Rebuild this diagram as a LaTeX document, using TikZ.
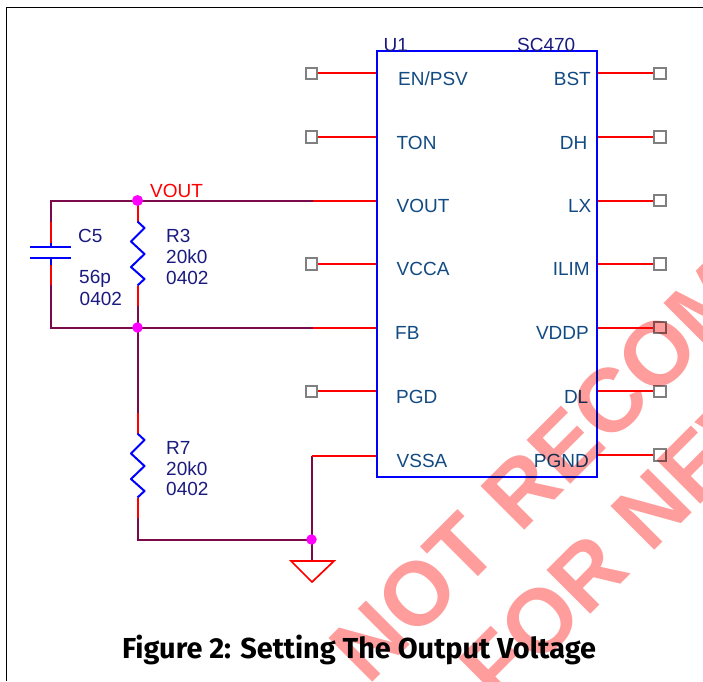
\documentclass[tikz,border=0pt]{standalone}
\usepackage{fontspec}
\setmainfont{Liberation Sans}
\newfontfamily\titlefont{Fira Sans}
\usepackage{tikz}
\usetikzlibrary{shapes,arrows}
\definecolor{netcol}{HTML}{7A0A4A}
\definecolor{refcol}{HTML}{1A1A80}
\definecolor{pincol}{HTML}{124A82}
\definecolor{markcol}{HTML}{FF9C9C}
\definecolor{dotcol}{HTML}{FF00FF}
\tikzstyle{term} = [rectangle, draw=gray, line width=2pt, fill=white, inner sep=0pt, minimum size=11.5pt]
\tikzstyle{chip} = [rectangle, draw=blue, line width=2pt, minimum width=220pt, minimum height=425.5pt, inner sep=0pt]
\tikzstyle{line} = [draw, red, line width=2pt]
\tikzstyle{net} = [draw, netcol, line width=2pt]
\tikzstyle{part} = [draw, blue, line width=2pt]
\tikzstyle{dot} = [circle, fill=dotcol, inner sep=0pt, minimum size=10.5pt]
\tikzstyle{pinname} = [text=pincol, inner sep=0pt, font=\fontsize{19}{19}\selectfont]
\tikzstyle{ref} = [text=refcol, inner sep=0pt, anchor=base west, font=\fontsize{19}{19}\selectfont]
\tikzstyle{stamp} = [text=markcol, inner sep=0pt, anchor=base west, rotate=45, font=\fontsize{90}{90}\selectfont\bfseries]
\begin{document}
\begin{tikzpicture}[x=1pt, y=-1pt, node distance = 63.6pt]
      \useasboundingbox (0,0) rectangle (703,681);
      \clip (0,0) rectangle (703,681);
      \coordinate (framea) at (6.5,681);
      \coordinate (frameb) at (6.5,7.5);
      \coordinate (framec) at (703,7.5);
      \draw [black, line width=1.5pt] (framea) -- (frameb) -- (framec);

      \node [chip] at (487,264.2) (u1) {};

      % terminals
      \node [term] at (311.5,73.3) (en) {};
      \node [term, below of=en] (ton) {};
      \node [term, below of=ton, yshift=-63.6pt] (vcca) {};
      \node [term, below of=vcca, yshift=-63.6pt] (pgd) {};
      \node [term] at (660,73.3) (bst) {};
      \node [term, below of=bst] (dh) {};
      \node [term, below of=dh] (lx) {};
      \node [term, below of=lx] (ilim) {};
      \node [term, below of=ilim] (vddp) {};
      \node [term, below of=vddp] (dl) {};
      \node [term, below of=dl] (pgnd) {};

      \foreach \t in {en,ton,vcca,pgd}
        \path [line] (\t.east) -- (\t.east -| u1.west);
      \foreach \t in {bst,dh,lx,ilim,vddp,dl,pgnd}
        \path [line] (\t.west) -- (\t.west -| u1.east);

      % wiring points
      \coordinate (vout) at (137.5,200.5);
      \coordinate (fb) at (137.5,327.5);
      \coordinate (gnd) at (311.5,539.5);
      \coordinate (voutl) at (50.5,200.5);
      \coordinate (fbl) at (50.5,327.5);
      \coordinate (voutr) at (313,200.5);
      \coordinate (fbr) at (313,327.5);
      \coordinate (vssa) at (312,455.5);
      \coordinate (gndtop) at (312,561);
      \coordinate (r7l) at (137.5,539.5);

      % net wires
      \path [net] (voutr) -- (voutl) -- (50.5,222);
      \path [net] (50.5,285) -- (fbl) -- (fbr);
      \path [net] (fb) -- (137.5,413);
      \path [net] (137.5,306) -- (fb);
      \path [net] (137.5,518) -- (r7l) -- (gnd);
      \path [net] (312,456) -- (gndtop);
      \path [line] (voutr) -- (voutr -| u1.west);
      \path [line] (fbr) -- (fbr -| u1.west);
      \path [line] (vssa) -- (vssa -| u1.west);

      % C5
      \path [line] (50.5,222) -- (50.5,243);
      \path [line] (50.5,265) -- (50.5,285);
      \path [part] (50.5,243) -- (50.5,247);
      \path [part] (50.5,258) -- (50.5,265);
      \path [part] (30,247) -- (71,247);
      \path [part] (30,258) -- (71,258);

      % R3 and R7
      \coordinate (r3) at (137.5,221.5);
      \coordinate (r7) at (137.5,433.5);
      \path [line] (vout) -- (r3);
      \path [line] (137.5,285.5) -- (137.5,306);
      \path [line] (137.5,413) -- (r7);
      \path [line] (137.5,497.5) -- (137.5,518);
      \foreach \r in {r3,r7}
        \path [part, line join=round] (\r) -- ++(7,6.5) -- ++(-13.5,13.5) -- ++(13.5,12.5)
          -- ++(-13.5,13) -- ++(13.5,12) -- ++(-7,6.5);

      % ground
      \coordinate (gnda) at (291,561);
      \coordinate (gndb) at (334,561);
      \coordinate (gndc) at (312,582);
      \draw [red, line width=1.7pt, line join=miter] (gnda) -- (gndb) -- (gndc) -- cycle;

      \node [dot, minimum size=11pt] at (vout) (dota) {};
      \node [dot] at (fb) (dotb) {};
      \node [dot] at (gnd) (dotc) {};

      % pin names
      \node [pinname, anchor=base west] at (398,85) (nen) {EN/PSV};
      \node [pinname, anchor=base west] at (396.5,149) (nton) {TON};
      \node [pinname, anchor=base west] at (396.5,212) (nvout) {VOUT};
      \node [pinname, anchor=base west] at (396.5,275.5) (nvcca) {VCCA};
      \node [pinname, anchor=base west] at (395,339) (nfb) {FB};
      \node [pinname, anchor=base west] at (396,403) (npgd) {PGD};
      \node [pinname, anchor=base west] at (396.5,467) (nvssa) {VSSA};
      \node [pinname, anchor=base east] at (591,85) (nbst) {BST};
      \node [pinname, anchor=base east] at (587.5,149) (ndh) {DH};
      \node [pinname, anchor=base east] at (591.5,212) (nlx) {LX};
      \node [pinname, anchor=base east] at (590,275.5) (nilim) {ILIM};
      \node [pinname, anchor=base east] at (589,339) (nvddp) {VDDP};
      \node [pinname, anchor=base east] at (588.5,403) (ndl) {DL};
      \node [pinname, anchor=base east] at (589,467) (npgnd) {PGND};

      % part labels
      \node [ref] at (383.5,51) (lu) {U1};
      \node [ref] at (517,51) (lsc) {SC470};
      \node [ref, text=red] at (150,197) (lvout) {VOUT};
      \node [ref] at (78,242) (lc) {C5};
      \node [ref] at (79,283.5) (lcv) {56p};
      \node [ref] at (79.5,305.5) (lcs) {0402};
      \node [ref] at (166,242) (lr) {R3};
      \node [ref] at (166,263.3) (lrv) {20k0};
      \node [ref] at (166,284) (lrs) {0402};
      \node [ref] at (166,454) (ls) {R7};
      \node [ref] at (166,475) (lsv) {20k0};
      \node [ref] at (166,495.7) (lss) {0402};

      \node [inner sep=0pt, anchor=base west, font=\titlefont\bfseries\fontsize{28.9}{29}\selectfont] at (122,658) (title) {Figure 2: Setting The Output Voltage};

      % stamp
      \begin{scope}[blend mode=multiply]
      \node [stamp] at (368,687) (marka) {NOT RECOMMENDED};
      \node [stamp] at (498,707) (markb) {FOR NEW DESIGN};
      \end{scope}
    \end{tikzpicture}
\end{document}
